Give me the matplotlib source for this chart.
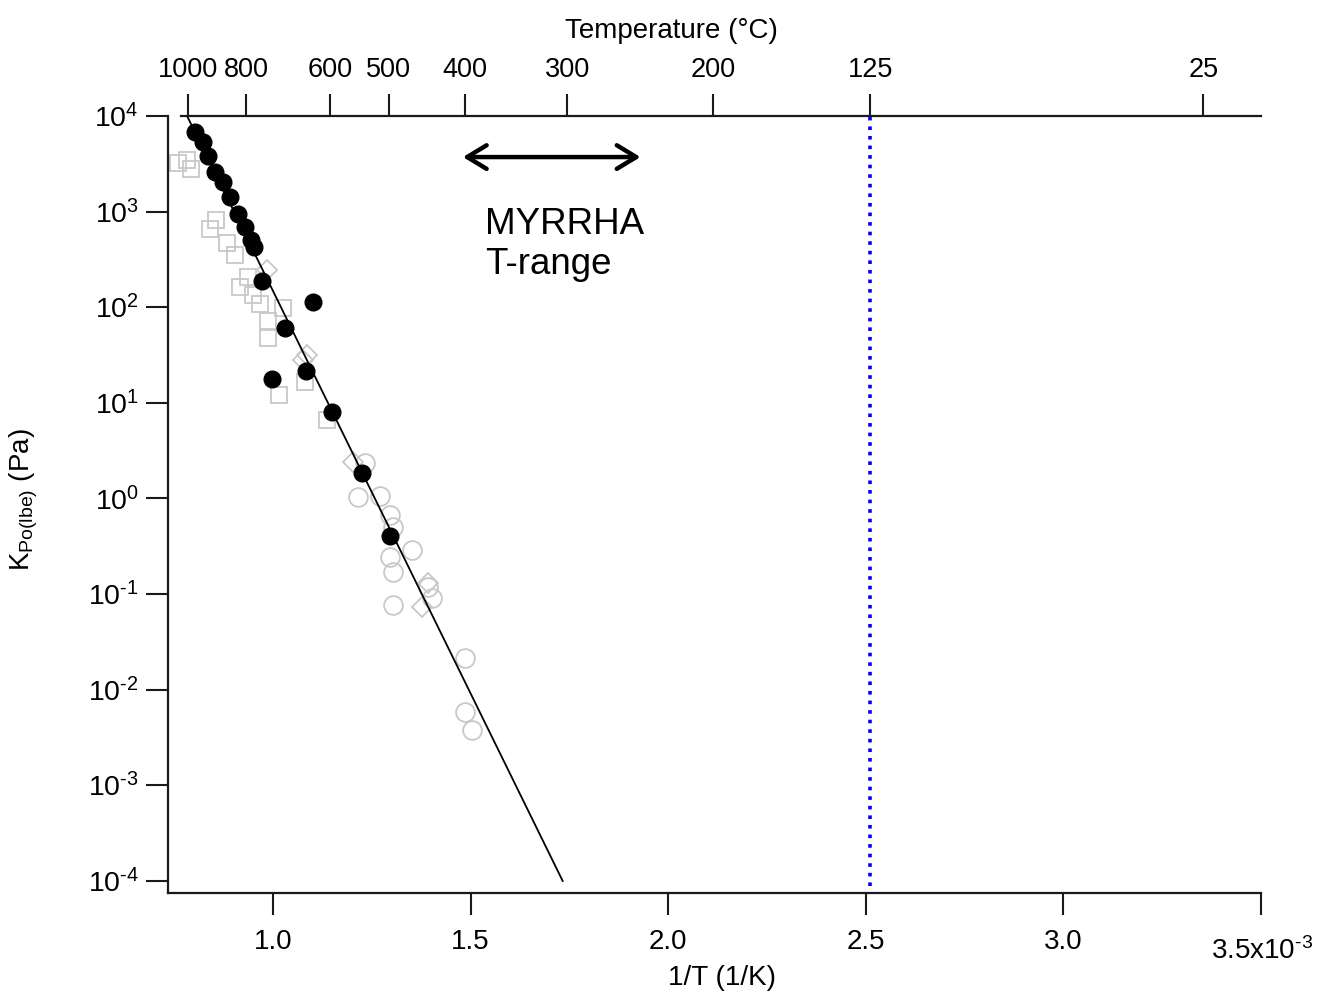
import numpy as np
import matplotlib
matplotlib.use('Agg')
import matplotlib.pyplot as plt
from matplotlib.ticker import NullLocator

plt.rcParams['font.family'] = 'Liberation Sans'
plt.rcParams['mathtext.fontset'] = 'custom'
plt.rcParams['mathtext.rm'] = 'Liberation Sans'
plt.rcParams['mathtext.it'] = 'Liberation Sans:italic'

# x: 1/T in 10^-3 1/K, K: partial pressure constant in Pa
black_x = [0.803, 0.823, 0.836, 0.853, 0.874, 0.891, 0.912, 0.929, 0.944, 0.952,
           0.972, 1.030, 1.101, 0.998, 1.083, 1.149, 1.225, 1.296]
black_k = [6800, 5350, 3820, 2590, 2040, 1420, 944, 690, 505, 427,
           188, 60.5, 113, 17.7, 21.5, 8.0, 1.85, 0.405]

square_x = [0.760, 0.783, 0.793, 0.856, 0.841, 0.884, 0.904, 0.937, 0.917, 0.949,
            0.967, 1.025, 0.987, 0.987, 1.081, 1.015, 1.137]
square_k = [3220, 3470, 2790, 817, 658, 470, 352, 207, 163, 134,
            108, 98, 71.8, 47.6, 16.5, 12.1, 6.6]

diamond_x = [0.985, 1.086, 1.076, 1.202, 1.392, 1.377]
diamond_k = [245, 31.6, 28.1, 2.40, 0.130, 0.073]

circle_x = [1.233, 1.215, 1.271, 1.296, 1.303, 1.352, 1.296, 1.303, 1.303, 1.392,
            1.402, 1.486, 1.486, 1.503]
circle_k = [2.34, 1.03, 1.06, 0.67, 0.502, 0.288, 0.244, 0.170, 0.0767, 0.118,
            0.0908, 0.0214, 0.00583, 0.00378]

# fit: log10(K) = fit_a + fit_b * x
fit_a = 10.59
fit_b = -8.42
fit_x = [0.783, 1.733]

bottom_ticks = [1.0, 1.5, 2.0, 2.5, 3.0, 3.5]
bottom_labels = ['1.0', '1.5', '2.0', '2.5', '3.0', '']
top_temps = [1000, 800, 600, 500, 400, 300, 200, 125, 25]
y_exps = list(range(-4, 5))
myrrha_temps = [400, 245]
limit_temp = 125


def inv_t(c):
    return 1000.0 / (np.asarray(c, dtype=float) + 273.15)


def sup(e):
    # hyphen instead of the math minus, as in the original
    s = str(e).replace('-', r'\text{-}')
    return r'$\mathregular{10^{%s}}$' % s


grey = '#c8c8c8'
ink = '#1a1a1a'

fig = plt.figure(figsize=(13.17, 9.94), dpi=100)
ax = fig.add_axes([0.1276, 0.1016, 0.8299, 0.7817])

ax.plot(square_x, square_k, 's', ms=11, mfc='none', mec=grey, mew=1.3, zorder=2)
ax.plot(diamond_x, diamond_k, 'D', ms=10, mfc='none', mec=grey, mew=1.3, zorder=2)
ax.plot(circle_x, circle_k, 'o', ms=13.5, mfc='none', mec=grey, mew=1.3, zorder=2)

xf = np.array(fit_x)
ax.plot(xf, 10 ** (fit_a + fit_b * xf), color='black', lw=1.3, zorder=3)
ax.plot(black_x, black_k, 'o', ms=12, color='black', zorder=4)

xl = inv_t(limit_temp)
ax.plot([xl, xl], [10 ** -4.05, 1e4], color='#0000ff', lw=2.6, ls=':', zorder=3)

xa = inv_t(myrrha_temps)
ax.annotate('', xy=(xa[0] - 0.005, 3720), xytext=(xa[1], 3720),
            arrowprops=dict(arrowstyle='<->,head_length=1.4,head_width=0.85',
                            lw=3.2, color='black', shrinkA=0, shrinkB=0))
ax.text(1.536, 1130, 'MYRRHA\nT-range', fontsize=26.5, ha='left', va='top',
        linespacing=1.22)

ax.set_yscale('log')
ax.set_xlim(0.7345, 3.5)
ax.set_ylim(10 ** -4.128, 1e4)

ax.set_xticks(bottom_ticks)
ax.set_xticklabels(bottom_labels)
ax.set_yticks([10.0 ** e for e in y_exps])
ax.set_yticklabels([sup(e) for e in y_exps])
ax.yaxis.set_minor_locator(NullLocator())
ax.tick_params(axis='both', direction='out', length=16, width=1.5, color=ink)
ax.tick_params(axis='x', pad=10, labelsize=20)
ax.tick_params(axis='y', pad=5, labelsize=20.5)

for s in ['top', 'right']:
    ax.spines[s].set_visible(False)
for s in ['left', 'bottom']:
    ax.spines[s].set_linewidth(1.6)
    ax.spines[s].set_color(ink)

ax.set_xlabel('1/T (1/K)', fontsize=20)
ax.xaxis.set_label_coords(0.507, -0.093)
ax.set_ylabel(r'K$_{\mathregular{Po(lbe)}}$ (Pa)', fontsize=20)
ax.yaxis.set_label_coords(-0.117, 0.506)

ax.annotate(r'$\mathregular{3.5x10^{\text{-}3}}$', xy=(3.5, 0),
            xycoords=('data', 'axes fraction'), xytext=(1, -42),
            textcoords='offset points', ha='center', va='center', fontsize=20)

ax2 = ax.twiny()
ax2.set_xlim(ax.get_xlim())
ax2.set_xticks(inv_t(top_temps))
ax2.set_xticklabels([str(t) for t in top_temps])
ax2.tick_params(axis='x', direction='out', length=16, width=1.5,
                labelsize=19.5, pad=8, color=ink)
for s in ['left', 'right', 'bottom']:
    ax2.spines[s].set_visible(False)
ax2.spines['top'].set_bounds(0.767, 3.5)
ax2.spines['top'].set_linewidth(1.6)
ax2.spines['top'].set_color(ink)
ax2.set_xlabel('Temperature (°C)', fontsize=20)
ax2.xaxis.set_label_coords(0.461, 1.10)

fig.savefig('out.png', dpi=100)
